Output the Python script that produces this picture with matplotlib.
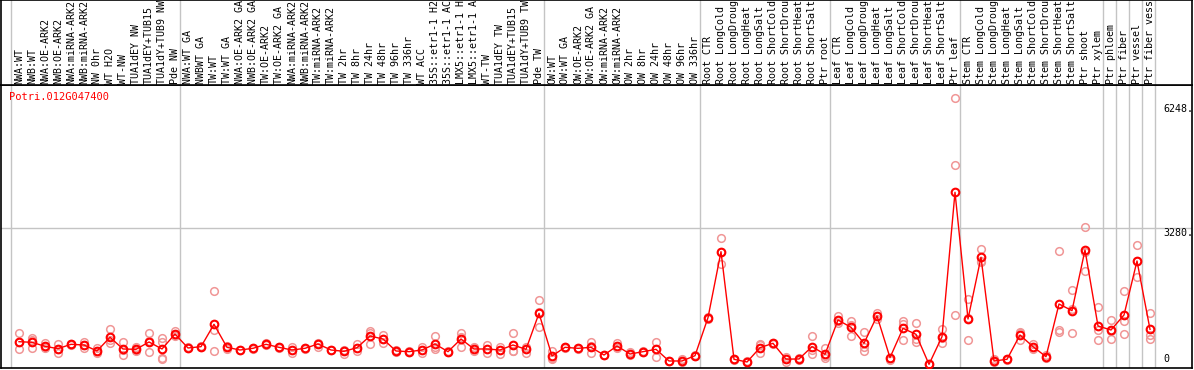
import matplotlib
matplotlib.use('Agg')
from matplotlib import pyplot as plt

gene = 'Potri.012G047400'

labels = [
    'NWA:WT', 'NWB:WT', 'NWA:OE-ARK2', 'NWB:OE-ARK2', 'NWA:miRNA-ARK2', 'NWB:miRNA-ARK2',
    'NW 0hr', 'WT H2O', 'WT-NW', 'TUA1dEY NW', 'TUA1dEY+TUB15', 'TUA1dY+TUB9 NW', 'Pde NW',
    'NWA:WT GA', 'NWBWT GA', 'TW:WT', 'TW:WT GA', 'NWA:OE-ARK2 GA', 'NWB:OE-ARK2 GA',
    'TW:OE-ARK2', 'TW:OE-ARK2 GA', 'NWA:miRNA-ARK2', 'NWB:miRNA-ARK2', 'TW:miRNA-ARK2',
    'TW:miRNA-ARK2', 'TW 2hr', 'TW 8hr', 'TW 24hr', 'TW 48hr', 'TW 96hr', 'TW 336hr',
    'WT ACC', '35S::etr1-1 H2', '35S::etr1-1 AC', 'LMX5::etr1-1 H', 'LMX5::etr1-1 A',
    'WT-TW', 'TUA1dEY TW', 'TUA1dEY+TUB15', 'TUA1dY+TUB9 TW', 'Pde TW',
    'OW:WT', 'OW:WT GA', 'OW:OE-ARK2', 'OW:OE-ARK2 GA', 'OW:miRNA-ARK2', 'OW:miRNA-ARK2',
    'OW 2hr', 'OW 8hr', 'OW 24hr', 'OW 48hr', 'OW 96hr', 'OW 336hr',
    'Root CTR', 'Root LongCold', 'Root LongDroug', 'Root LongHeat', 'Root LongSalt',
    'Root ShortCold', 'Root ShortDrou', 'Root ShortHeat', 'Root ShortSalt', 'Ptr root',
    'Leaf CTR', 'Leaf LongCold', 'Leaf LongDroug', 'Leaf LongHeat', 'Leaf LongSalt',
    'Leaf ShortCold', 'Leaf ShortDrou', 'Leaf ShortHeat', 'Leaf ShortSalt', 'Ptr leaf',
    'Stem CTR', 'Stem LongCold', 'Stem LongDroug', 'Stem LongHeat', 'Stem LongSalt',
    'Stem ShortCold', 'Stem ShortDrou', 'Stem ShortHeat', 'Stem ShortSalt', 'Ptr shoot',
    'Ptr xylem', 'Ptr phloem', 'Ptr fiber', 'Ptr vessel', 'Ptr fiber vess',
]

group_sizes = [13, 28, 12, 10, 10, 11, 1, 1, 1, 1]

means = [
    558, 543, 447, 391, 495, 479, 335, 663, 383, 375, 551, 383, 742,
    407, 439, 974, 423, 359, 399, 495, 423, 359, 399, 503, 359, 327, 415,
    694, 622, 335, 319, 359, 503, 319, 622, 383, 383, 359, 479, 375, 1237,
    215, 423, 399, 423, 239, 455, 263, 319, 375, 96, 96, 223,
    1133, 2713, 136, 72, 415, 519, 140, 144, 439, 255,
    1077, 902, 519, 1173, 176, 878, 734, 16, 678, 4134,
    1101, 2578, 96, 136, 718, 439, 199, 1460, 1301, 2753, 934,
    838, 1197, 2490, 854,
]

reps = [
    [759, 376, 540], [639, 400, 590], [519, 400, 430], [503, 295, 380], [495, 480, 510],
    [543, 400, 490], [400, 279, 330], [855, 535, 600], [551, 232, 370], [420, 340, 365],
    [766, 304, 580], [646, 543, 168, 140], [822, 694, 710],
    [400, 420], [430, 450], [1772, 838, 327], [455, 390], [350, 370], [390, 410],
    [519, 470], [410, 435], [295, 420], [390, 410], [535, 440], [350, 365], [359, 263],
    [495, 343], [814, 495, 770], [718, 519, 630], [320, 350], [300, 340], [440, 279],
    [694, 383, 430], [310, 330], [759, 423, 680], [440, 330], [470, 280], [420, 263],
    [759, 343, 340], [440, 279], [1548, 902, 1260],
    [343, 136, 170], [410, 440], [390, 410], [543, 279, 450], [230, 250], [520, 400],
    [300, 230], [310, 330], [543, 199, 380], [90, 100], [136, 60], [210, 240],
    [1160, 1100], [3033, 2411, 2700], [120, 150], [60, 85], [495, 279, 470], [510, 530],
    [200, 80], [130, 160], [694, 255, 370], [399, 160, 210],
    [1173, 1000, 1060], [1061, 694, 950], [782, 335, 440], [1237, 1100], [176, 120],
    [1061, 598, 975], [1013, 559, 630], [16, 20], [870, 519, 645], [6384, 4788, 1197],
    [1580, 598, 1125], [2777, 2474, 2480], [150, 60], [120, 150], [798, 598, 760],
    [510, 380], [240, 170], [2729, 838, 800], [1796, 759, 1350], [3296, 2250, 2713],
    [1381, 598, 830], [1077, 614, 820], [1772, 1061, 734], [2873, 2114, 2480],
    [1237, 718, 614],
]

ticks = [0, 3280, 6248]

W, H = 1194, 370
fig = plt.figure(figsize=(W / 100, H / 100), dpi=100)

# pixel helpers
def fx(px):
    return px / W

def fy(py):
    return 1 - py / H

mono = 'DejaVu Sans Mono'
grey = '#c4c4c4'
xlim = ((1 - 19) / 13, (1192 - 19) / 13)
ylim = (-72, 6703)

# plot area
ax = fig.add_axes([fx(1), fy(368), fx(1191), fy(85) - fy(368)])
ax.set_xlim(*xlim)
ax.set_ylim(*ylim)
ax.set_xticks([])
ax.set_yticks([])
for s in ax.spines.values():
    s.set_color('black')
    s.set_linewidth(1.2)

# header area
hx = fig.add_axes([fx(1), fy(85), fx(1191), fy(0) - fy(85)])
hx.set_xlim(*xlim)
hx.set_ylim(0, 85)
hx.set_xticks([])
hx.set_yticks([])
for s in hx.spines.values():
    s.set_color('black')
    s.set_linewidth(1.2)

# group separators
bounds = [-0.64]
n = 0
for g in group_sizes:
    n += g
    bounds.append(n - 0.6)
for b in bounds:
    ax.axvline(b, color=grey, lw=1, zorder=0)
    hx.axvline(b, color=grey, lw=1, zorder=0)

ax.axhline(ticks[1], color=grey, lw=1, zorder=0)

x = list(range(len(means)))
for i, r in enumerate(reps):
    ax.plot([i] * len(r), r, 'o', ms=5.5, mfc='none', mec='#f09696', mew=1.1, zorder=2)
ax.plot(x, means, '-', color='red', lw=1, zorder=3)
ax.plot(x, means, 'o', ms=5.5, mfc='none', mec='red', mew=1.5, zorder=4)

for i, lab in enumerate(labels):
    hx.text(i, 1.5, lab, rotation=90, ha='center', va='bottom', family=mono,
            fontsize=7.2, clip_on=True)

for t in ticks:
    if t == 0:
        ax.text((1163 - 19) / 13, t + 20, '0', ha='left', va='bottom',
                family=mono, fontsize=7.2)
    else:
        ax.text((1163 - 19) / 13, t, str(t) + '.', ha='left', va='top',
                family=mono, fontsize=7.2)

ax.text((9 - 19) / 13, (365 - 97) / 0.04177, gene, color='red', family=mono,
        fontsize=7.5, ha='left', va='center')

fig.savefig('out.png', dpi=100)
